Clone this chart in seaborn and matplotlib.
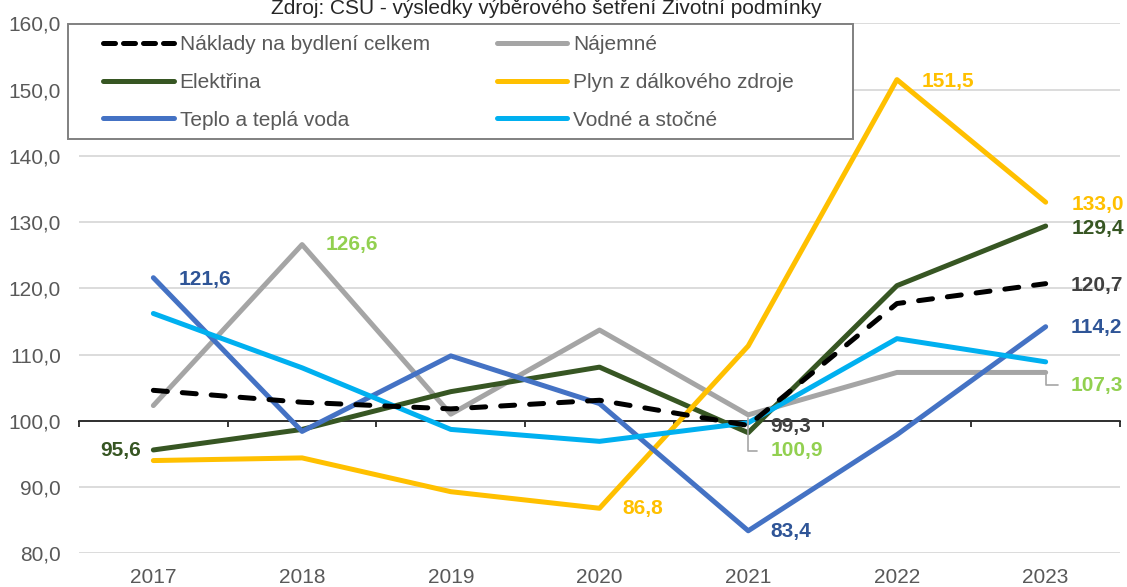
import numpy as np
import pandas as pd
import matplotlib
matplotlib.use("Agg")
import matplotlib.pyplot as plt
import seaborn as sns
from matplotlib.ticker import FuncFormatter, FixedLocator
from matplotlib.lines import Line2D
from matplotlib.patches import Rectangle

# data (indexy)
roky = [2017, 2018, 2019, 2020, 2021, 2022, 2023]
naklady = [104.6, 102.8, 101.8, 103.1, 99.3, 117.7, 120.7]
najemne = [102.3, 126.6, 101.0, 113.7, 100.9, 107.3, 107.3]
elektrina = [95.6, 98.7, 104.4, 108.1, 98.2, 120.4, 129.4]
plyn = [94.0, 94.4, 89.3, 86.8, 111.3, 151.5, 133.0]
teplo = [121.6, 98.4, 109.8, 102.6, 83.4, 97.9, 114.2]
vodne = [116.2, 108.0, 98.7, 96.9, 99.7, 112.4, 108.9]

nazvy = ["Náklady na bydlení celkem", "Nájemné", "Elektřina",
         "Plyn z dálkového zdroje", "Teplo a teplá voda", "Vodné a stočné"]
rady = [naklady, najemne, elektrina, plyn, teplo, vodne]
barvy = ["#000000", "#A5A5A5", "#375623", "#FFC000", "#4472C4", "#00B0F0"]
barvy_popisku = ["#404040", "#92D050", "#375623", "#FFC000", "#2F5597", "#00B0F0"]

titulek = "Zdroj: ČSÚ - výsledky výběrového šetření Životní podmínky"

# which points get a value label: (series index, year index, dx px, dy px, leader line)
popisky = [
    (4, 0, 25, -2, False),
    (1, 1, 24, 0, False),
    (2, 0, -12, -1, False),
    (3, 3, 23, 0, False),
    (4, 4, 22, -1, False),
    (0, 4, 22, -1, False),
    (1, 4, 22, -36, True),
    (3, 5, 25, -2, False),
    (3, 6, 26, -2, False),
    (2, 6, 26, -2, False),
    (0, 6, 25, -2, False),
    (4, 6, 25, -1, False),
    (1, 6, 25, -13, True),
]

sns.set_theme(style="white")
plt.rcParams["font.family"] = ["Liberation Sans", "DejaVu Sans"]

fig = plt.figure(figsize=(11.27, 5.87), dpi=100)
ax = fig.add_axes([0.0701, 0.0574, 0.9237, 0.9029])

poradi_kresleni = [1, 2, 3, 4, 5, 0]
for i in poradi_kresleni:
    sns.lineplot(x=roky, y=rady[i], color=barvy[i], linewidth=3.6, ax=ax)
    line = ax.lines[-1]
    line.set_zorder(3 + (i == 0))
    if i == 0:
        line.set_dashes((2.8, 3.0))
        line.set_dash_capstyle("round")

ax.set_xlim(2016.5, 2023.5)
ax.set_ylim(80, 160)
ax.set_yticks(np.arange(80, 161, 10))
ax.yaxis.set_major_formatter(FuncFormatter(lambda v, p: f"{v:.1f}".replace(".", ",")))
ax.yaxis.grid(True, color="#D9D9D9", linewidth=1.3)
ax.xaxis.grid(False)
ax.set_xlabel("")
ax.set_ylabel("")

for s in ["left", "right", "top"]:
    ax.spines[s].set_visible(False)
ax.spines["bottom"].set_position(("data", 100))
ax.spines["bottom"].set_color("black")
ax.spines["bottom"].set_linewidth(1.1)
ax.spines["bottom"].set_zorder(2.5)

ax.set_xticks(roky)
ax.set_xticklabels([str(r) for r in roky])
ax.xaxis.set_minor_locator(FixedLocator(np.arange(2016.5, 2024, 1)))
ax.tick_params(axis="x", which="major", length=0, pad=106, labelsize=15, labelcolor="#595959")
ax.tick_params(axis="x", which="minor", length=4.5, width=1.1, color="black", direction="out", bottom=True)
ax.tick_params(axis="y", length=0, pad=13, labelsize=15, labelcolor="#595959")

# value labels
for si, yi, dx, dy, vodic in popisky:
    hodnota = rady[si][yi]
    text = f"{hodnota:.1f}".replace(".", ",")
    kw = dict(xy=(roky[yi], hodnota), xytext=(dx * 0.72, dy * 0.72), textcoords="offset points",
              ha="left" if dx > 0 else "right", va="center", fontsize=15, fontweight="bold",
              color=barvy_popisku[si], zorder=6)
    if vodic:
        kw["arrowprops"] = dict(arrowstyle="-", color="#A5A5A5", lw=1.2,
                                connectionstyle="angle,angleA=0,angleB=90,rad=0",
                                shrinkA=7, shrinkB=2, relpos=(0, 0.5))
    ax.annotate(text, **kw)

# legend box and entries
ax.add_patch(Rectangle((-0.0103, 0.7811), 0.7541, 0.217, transform=ax.transAxes,
                       facecolor="white", edgecolor="#808080", linewidth=1.4,
                       zorder=4, clip_on=False))
poradi_legendy = [0, 2, 4, 1, 3, 5]
handles = []
for i in poradi_legendy:
    if i == 0:
        h = Line2D([], [], color=barvy[i], linewidth=3.6, dashes=(2.4, 1.6),
                   dash_capstyle="round")
    else:
        h = Line2D([], [], color=barvy[i], linewidth=3.6, solid_capstyle="round")
    handles.append(h)
leg = ax.legend(handles, [nazvy[i] for i in poradi_legendy], ncol=2, loc="upper left",
                bbox_to_anchor=(0.0233, 0.9774), frameon=False, borderpad=0,
                borderaxespad=0, fontsize=15, handlelength=3.4, handletextpad=0.27,
                columnspacing=3.2, labelspacing=0.9, labelcolor="#595959")
leg.set_zorder(5)

fig.text(0.4845, 0.977, titulek, ha="center", va="baseline", fontsize=15, color="#262626")

fig.savefig("out.png", dpi=100)
